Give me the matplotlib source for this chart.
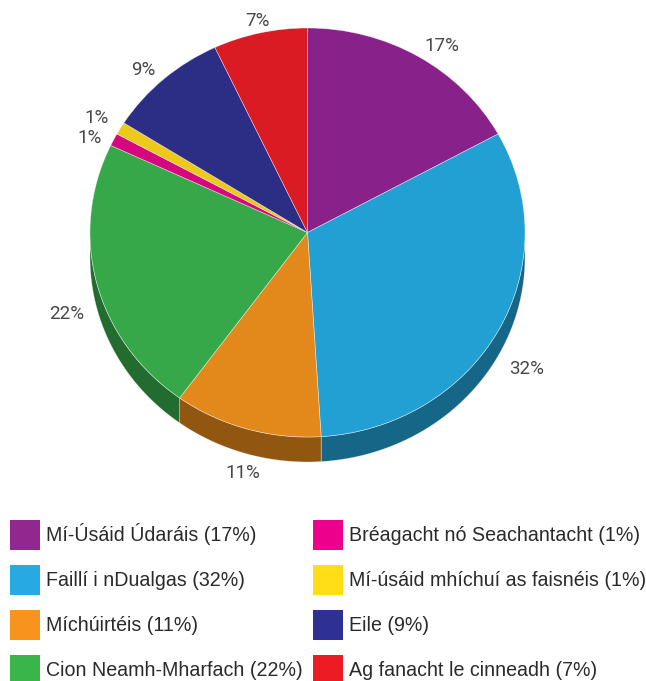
import numpy as np
import matplotlib
matplotlib.use('Agg')
import matplotlib.pyplot as plt
from matplotlib.patches import Patch
from matplotlib.colors import to_rgb
from matplotlib import font_manager

# Dáta
names = ['Mí-Úsáid Údaráis', 'Faillí i nDualgas', 'Míchúirtéis', 'Cion Neamh-Mharfach',
         'Bréagacht nó Seachantacht', 'Mí-úsáid mhíchuí as faisnéis', 'Eile', 'Ag fanacht le cinneadh']
values = [17, 32, 11, 22, 1, 1, 9, 7]
pie_colors = ['#88218A', '#23A0D3', '#E3881A', '#37A849', '#D6077E', '#ECC91B', '#2C2E86', '#DB1B23']
legend_colors = ['#92278F', '#27AAE1', '#F7941D', '#39B54A', '#EC008C', '#FFDE17', '#2E3192', '#ED1C24']

W, H = 646, 681
cx, cy = 307.5, 232.5      # lár an phióg (px)
rx, ry = 217.5, 204.5      # ga (px)
depth_px = 25
depth = depth_px / ry

fig = plt.figure(figsize=(W / 100, H / 100), dpi=100)
top_px = 500
ax = fig.add_axes([0, 1 - top_px / H, 1, top_px / H])

wedges, _ = ax.pie(values, colors=pie_colors, startangle=90, counterclock=False,
                   wedgeprops=dict(edgecolor=(1, 1, 1, 0.5), linewidth=0.5, zorder=3))
ax.set_aspect('auto')
ax.set_xlim(-cx / rx, (W - cx) / rx)
ax.set_ylim(-(top_px - cy) / ry, cy / ry)
ax.axis('off')

# taobh 3D
frac = np.array(values) / sum(values)
cum = np.concatenate([[0], np.cumsum(frac)])
for i, col in enumerate(pie_colors):
    a1 = (90 - 360 * cum[i + 1]) % 360
    a2 = a1 + 360 * frac[i]
    dark = tuple(c * 0.64 for c in to_rgb(col))
    for lo, hi in ((180, 360), (-180, 0), (540, 720)):
        l, h = max(a1, lo), min(a2, hi)
        if h - l <= 0:
            continue
        t = np.radians(np.linspace(l, h, 80))
        xs, ys = np.cos(t), np.sin(t)
        ax.fill(np.concatenate([xs, xs[::-1]]), np.concatenate([ys, ys[::-1] - depth]),
                color=dark, zorder=2, edgecolor=(1, 1, 1, 0.45), linewidth=0.5)

# lipéid
labels = []
for i, v in enumerate(values):
    mid = np.radians(90 - 360 * (cum[i] + cum[i + 1]) / 2)
    x, y = 1.06 * np.cos(mid), 1.06 * np.sin(mid)
    if y < 0:
        y -= depth * min(1.3, 0.6 + 2 * abs(np.sin(mid)))
    labels.append([x, y, f'{v}%'])

left = sorted([l for l in labels if l[0] < 0], key=lambda l: l[1])
for a, b in zip(left, left[1:]):
    if b[1] - a[1] < 0.1:
        gap = (0.1 - (b[1] - a[1])) / 2
        a[1] -= gap
        b[1] += gap

for x, y, s in labels:
    ha = 'center' if abs(x) < 0.35 else ('left' if x > 0 else 'right')
    ax.text(x, y, s, ha=ha, va='center', fontsize=13.5, color='#484848',
            family=['Roboto', 'DejaVu Sans'])

# finscéal
leg_labels = [f'{n} ({v}%)' for n, v in zip(names, values)]
fp = font_manager.FontProperties(family=['Liberation Sans', 'DejaVu Sans'], size=15)
renderer = fig.canvas.get_renderer()
probe = fig.text(0, 0, leg_labels[0], fontproperties=fp)
wpx = probe.get_window_extent(renderer).width
probe.remove()
fp.set_size(15 * 210 / wpx)
fs_px = fp.get_size_in_points() * 100 / 72

handles = [Patch(facecolor=c, edgecolor='none') for c in legend_colors]
for col, x0 in ((0, 10), (1, 313)):
    leg = fig.legend(handles[col * 4:col * 4 + 4], leg_labels[col * 4:col * 4 + 4],
                     loc='upper left', bbox_to_anchor=(x0 / W, 1 - 520 / H),
                     frameon=False, prop=fp,
                     handlelength=30 / fs_px, handleheight=(30 / fs_px - 0.245) / 0.65,
                     handletextpad=6 / fs_px, labelspacing=15 / fs_px,
                     borderpad=0, borderaxespad=0, labelcolor='#2a2a2a')

fig.savefig('out.png', dpi=100)
